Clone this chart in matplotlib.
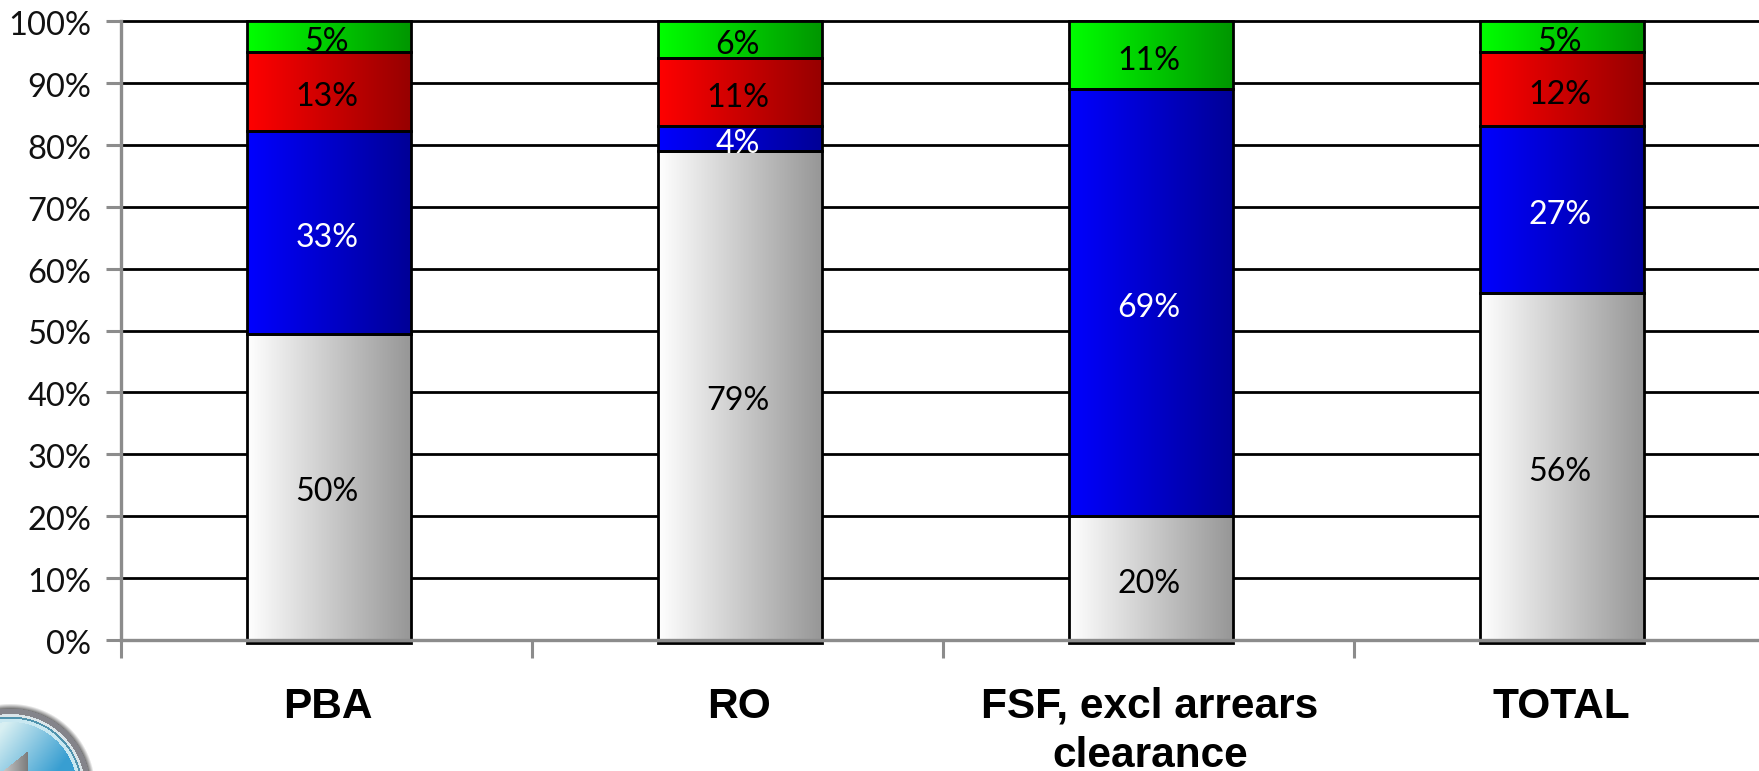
import numpy as np
import matplotlib
matplotlib.use('Agg')
import matplotlib.pyplot as plt
from matplotlib.colors import LinearSegmentedColormap
from matplotlib.transforms import ScaledTranslation

plt.rcParams['font.family'] = ['Lato', 'DejaVu Sans']

categories = ['PBA', 'RO', 'FSF, excl arrears\nclearance', 'TOTAL']
grey_vals = [50, 79, 20, 56]
blue_vals = [33, 4, 69, 27]
red_vals = [13, 11, 0, 12]
green_vals = [5, 6, 11, 5]
y_ticks = list(range(0, 101, 10))

W, H = 1759, 771


def button_image():
    # round back button, drawn pixel by pixel so the rings can fade
    yy, xx = np.mgrid[0:81, 0:130].astype(float)
    d = np.hypot(xx - 10, yy - 98)
    img = np.ones((81, 130, 4))
    t = np.clip((xx * 0.8 + (yy - 40) * 0.6) / 70, 0, 1)[..., None]
    inner = np.array([0.85, 0.94, 0.95]) * (1 - t) + np.array([0.22, 0.62, 0.82]) * t
    img[..., :3] = inner
    rings = [(66.5, 70, '#c9e8f1'), (70, 72, '#4f93ad'), (72, 74.5, '#dbe6ea'), (74.5, 80, '#84848a')]
    for r0, r1, col in rings:
        img[(d >= r0) & (d < r1), :3] = matplotlib.colors.to_rgb(col)
    outside = d >= 80
    img[outside, :3] = 0.25
    img[..., 3] = np.where(outside, np.clip((85 - d) / 5, 0, 1) * 0.7, 1)
    arrow = (yy >= 81 - (xx - 2) * 19 / 24) & (xx <= 27)
    shade = 0.82 - 0.33 * np.clip(xx / 27, 0, 1)
    img[arrow, :3] = shade[arrow][:, None]
    return img


fig = plt.figure(figsize=(W / 100, H / 100), dpi=100)
ax = fig.add_axes([121 / W, 1 - 640 / H, (W - 121) / W, (640 - 21) / H])

series = [
    (grey_vals, '#ffffff', '#969696', 'black'),
    (blue_vals, '#0000ff', '#000096', 'white'),
    (red_vals, '#ff0000', '#960000', 'black'),
    (green_vals, '#00ff00', '#009600', 'black'),
]

# 100% stacked: each column is scaled by its own total
totals = np.sum([s[0] for s in series], axis=0)
x = np.arange(len(categories)) + 0.5055
bar_w = 0.4
bottom = np.zeros(len(categories))
for vals, c0, c1, txt in series:
    heights = np.array(vals) / totals * 100
    cmap = LinearSegmentedColormap.from_list('fill', [c0, c1])
    bars = ax.bar(x, heights, bar_w, bottom=bottom, facecolor='none',
                  edgecolor='black', linewidth=2.0, zorder=4, clip_on=False)
    for bar, v, h, b in zip(bars, vals, heights, bottom):
        if v == 0:
            bar.set_visible(False)
            continue
        ax.imshow(np.linspace(0, 1, 256).reshape(1, -1), cmap=cmap, aspect='auto',
                  extent=(bar.get_x(), bar.get_x() + bar_w, b, b + h), zorder=3)
        ax.annotate('{}%'.format(v), xy=(bar.get_x() + bar_w / 2, b + h / 2), xytext=(-1.5, -4),
                    textcoords='offset points', color=txt, fontsize=23.2,
                    ha='center', va='center', zorder=5)
    bottom += heights

ax.set_xlim(0, (W - 121) / 411)
ax.set_ylim(0, 100)
ax.set_yticks(y_ticks)
ax.set_yticklabels(['{}%'.format(t) for t in y_ticks], fontsize=23.5, color='#111111')
ax.set_xticks(np.arange(len(categories)))
ax.set_xticklabels([])
ax.tick_params(axis='y', length=11, width=2.2, color='#8c8c8c', pad=10.5)
ax.tick_params(axis='x', length=13, width=2.2, color='#8c8c8c')
down = ScaledTranslation(0, -2 / 100, fig.dpi_scale_trans)
for lab in ax.get_yticklabels():
    lab.set_transform(lab.get_transform() + down)
ax.grid(axis='y', color='black', linewidth=2.0, zorder=1, clip_on=False)
ax.set_axisbelow(True)
for line in ax.get_ygridlines():
    line.set_clip_on(False)
for side in ['top', 'right']:
    ax.spines[side].set_visible(False)
for side in ['left', 'bottom']:
    ax.spines[side].set_color('#8c8c8c')
    ax.spines[side].set_linewidth(2.4)
    ax.spines[side].set_zorder(6)

# black foot of each bar shows just under the axis line
foot = ax.transData + ScaledTranslation(0, -3 / 100, fig.dpi_scale_trans)
for xi in x:
    ax.plot([xi - bar_w / 2, xi + bar_w / 2], [0, 0], color='black', linewidth=2.0,
            transform=foot, clip_on=False, zorder=5)

for xi, label in zip(x, categories):
    ax.annotate(label, xy=(xi, 0), xycoords=('data', 'axes fraction'), xytext=(-0.5, -33.5),
                textcoords='offset points', ha='center', va='top', fontsize=30.5,
                fontweight='bold', family=['Liberation Sans'], linespacing=1.3)

fig.figimage(button_image(), 0, 0, origin='upper', zorder=10)

fig.savefig('out.png', dpi=100)
